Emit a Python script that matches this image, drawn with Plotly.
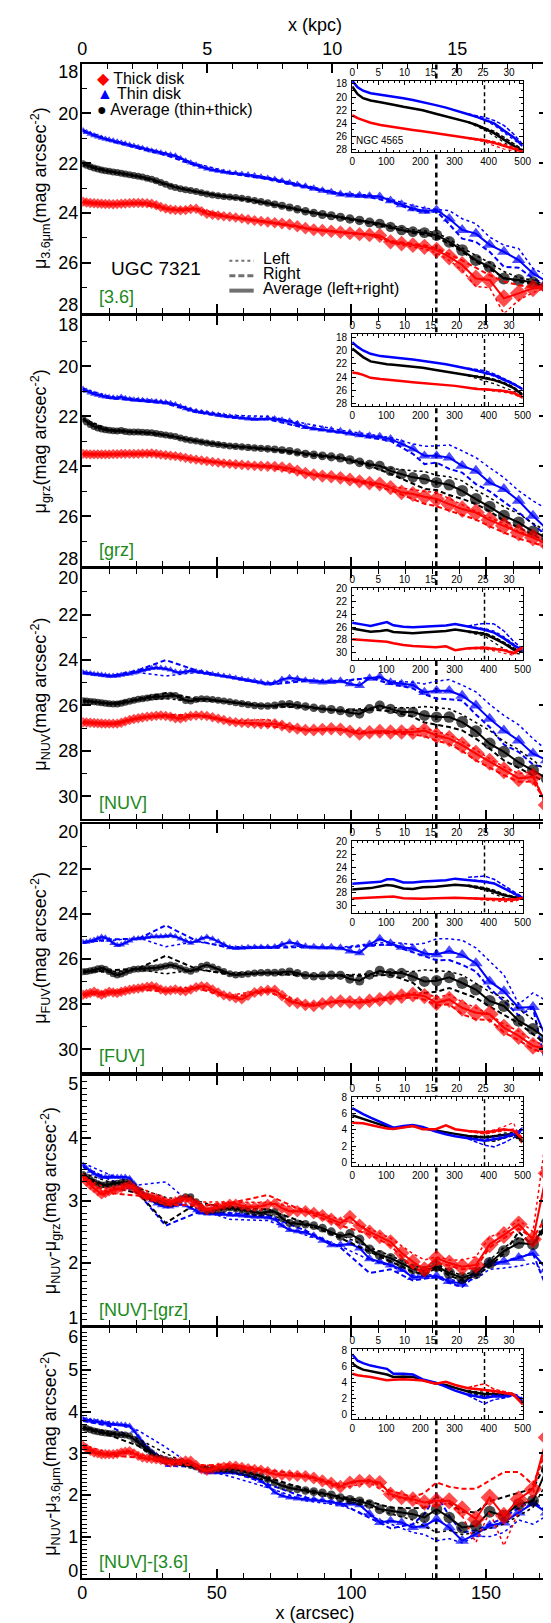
import numpy as np
import plotly.graph_objects as go

# ---------------- x grids (arcsec) ----------------
X_ARCSEC = [0.3, 1.6, 3.0, 4.4, 5.8, 7.2, 8.6, 10.0, 11.5, 13.0,
            14.5, 16.0, 17.6, 19.2, 20.8, 22.4, 24.1, 25.8, 27.5, 29.2,
            31.0, 32.8, 34.6, 36.5, 38.4, 40.3, 42.3, 44.3, 46.3, 48.4,
            50.5, 52.6, 54.8, 57.0, 59.3, 61.6, 64.0, 66.4, 68.9, 71.5,
            74.2, 77.0, 79.9, 82.9, 86.0, 89.2, 92.5, 95.9, 99.4, 103.0,
            106.7, 110.5, 114.5, 118.6, 122.8, 127.1, 131.6, 136.3, 141.1, 146.2,
            151.3, 156.6, 162.1, 167.4, 172.5]
# grid of the left / right side profiles
X_SIDE = [0.3, 10.0, 20.8, 31.0, 42.3, 54.8, 68.9, 82.9, 95.9, 106.7, 114.5,
          122.8, 127.1, 131.6, 136.3, 141.1, 146.2, 151.3, 156.6, 162.1, 167.4, 172.5]
# NGC 4565 inset grids
X_INSET = [0, 16, 32, 54, 83, 102, 121, 150, 178, 207, 245, 275, 302, 340, 365, 388, 416, 445, 473, 500]
X_INSET_TAIL = [340, 388, 416, 445, 473, 500]

BREAK_ARCSEC = 131.5
BREAK_INSET = 388
KPC_PER_ARCSEC = 0.1077
KPC_PER_ARCSEC_INSET = 0.0652
X_MAX = 173.0
X_MAX_INSET = 500

# ---------------- [3.6] ----------------
THIN_36 = [20.68, 20.75, 20.82, 20.88, 20.93, 20.98, 21.02, 21.06, 21.10, 21.14,
           21.18, 21.22, 21.27, 21.31, 21.36, 21.40, 21.45, 21.50, 21.54, 21.58,
           21.63, 21.66, 21.70, 21.80, 21.90, 21.98, 22.06, 22.15, 22.22, 22.27,
           22.31, 22.35, 22.38, 22.40, 22.43, 22.46, 22.50, 22.55, 22.60, 22.65,
           22.71, 22.79, 22.86, 22.93, 23.02, 23.10, 23.17, 23.24, 23.28, 23.30,
           23.32, 23.34, 23.50, 23.66, 23.82, 23.92, 23.88, 24.23, 24.68, 24.83,
           25.28, 25.56, 25.89, 26.43, 26.76]
MEAN_36 = [22.02, 22.08, 22.14, 22.19, 22.23, 22.27, 22.30, 22.32, 22.35, 22.37,
           22.40, 22.43, 22.46, 22.49, 22.52, 22.55, 22.60, 22.64, 22.70, 22.77,
           22.84, 22.92, 22.97, 23.02, 23.06, 23.10, 23.14, 23.19, 23.24, 23.28,
           23.31, 23.34, 23.36, 23.38, 23.41, 23.45, 23.50, 23.55, 23.60, 23.65,
           23.71, 23.78, 23.85, 23.93, 24.00, 24.06, 24.11, 24.17, 24.24, 24.30,
           24.38, 24.43, 24.56, 24.68, 24.75, 24.79, 24.89, 25.16, 25.49, 25.89,
           26.16, 26.63, 26.69, 26.79, 26.96]
THICK_36 = [23.55, 23.58, 23.60, 23.61, 23.62, 23.63, 23.64, 23.64, 23.65, 23.64,
            23.63, 23.62, 23.61, 23.60, 23.60, 23.60, 23.61, 23.63, 23.69, 23.76,
            23.82, 23.86, 23.88, 23.89, 23.88, 23.84, 23.83, 23.93, 24.03, 24.07,
            24.10, 24.13, 24.15, 24.18, 24.22, 24.26, 24.30, 24.33, 24.36, 24.39,
            24.42, 24.46, 24.53, 24.61, 24.67, 24.70, 24.73, 24.77, 24.81, 24.85,
            24.88, 24.90, 25.16, 25.23, 25.29, 25.36, 25.49, 25.76, 26.09, 26.63,
            26.69, 27.43, 27.23, 27.03, 26.96]
THIN_36_L = [20.66, 21.04, 21.33, 21.60, 22.02, 22.35, 22.56, 22.88, 23.20, 23.28, 23.44,
             23.70, 23.80, 23.86, 23.90, 24.23, 24.43, 24.97, 25.29, 25.43, 26.23, 26.50]
THIN_36_R = [20.72, 21.09, 21.40, 21.67, 22.10, 22.41, 22.64, 22.98, 23.28, 23.36, 23.55,
             23.88, 23.98, 23.93, 24.45, 25.03, 25.16, 25.56, 26.16, 26.20, 26.63, 26.90]
MEAN_36_L = [22.00, 22.30, 22.50, 22.82, 23.12, 23.34, 23.57, 23.90, 24.14, 24.34, 24.50,
             24.68, 24.72, 24.80, 25.05, 25.40, 25.70, 26.00, 26.35, 26.60, 26.70, 26.90]
MEAN_36_R = [22.04, 22.34, 22.54, 22.86, 23.16, 23.38, 23.63, 23.96, 24.20, 24.41, 24.60,
             24.80, 24.86, 24.97, 25.25, 25.55, 25.95, 26.25, 26.60, 26.75, 26.85, 27.00]
THICK_36_L = [23.53, 23.62, 23.58, 23.80, 23.81, 24.13, 24.34, 24.60, 24.76, 24.88, 25.20,
              25.36, 25.45, 25.60, 25.90, 26.30, 26.96, 27.00, 28.05, 27.50, 27.20, 27.00]
THICK_36_R = [23.57, 23.66, 23.62, 23.84, 23.85, 24.17, 24.38, 24.62, 24.78, 24.88, 25.12,
              25.24, 25.30, 25.42, 25.65, 25.90, 26.20, 26.50, 26.75, 26.90, 27.00, 26.95]
# NGC 4565 inset
THIN_36_IN = [17.5, 18.5, 19.03, 19.42, 19.65, 19.78, 19.94, 20.19, 20.45, 20.75,
              21.22, 21.6, 21.98, 22.6, 23.0, 23.4, 24.0, 25.1, 26.1, 27.4]
MEAN_36_IN = [18.4, 19.55, 20.16, 20.52, 20.78, 20.93, 21.15, 21.48, 21.72, 22.0,
              22.53, 22.93, 23.3, 23.8, 24.25, 24.82, 25.48, 26.47, 27.4, 28.15]
THICK_36_IN = [22.75, 23.2, 23.5, 23.9, 24.25, 24.42, 24.58, 24.82, 25.0, 25.2,
               25.48, 25.72, 25.93, 26.25, 26.42, 26.6, 26.97, 27.4, 27.8, 28.3]
THIN_36_IN_L = [22.6, 23.5, 24.3, 25.4, 26.4, 27.5]
THIN_36_IN_R = [22.55, 23.1, 23.55, 24.3, 25.6, 27.2]
MEAN_36_IN_L = [23.85, 25.0, 25.9, 26.9, 27.8, 28.3]
MEAN_36_IN_R = [23.75, 24.6, 25.2, 26.1, 27.1, 28.0]
THICK_36_IN_L = [26.3, 26.8, 27.4, 27.9, 28.2, 28.4]
THICK_36_IN_R = [26.2, 26.5, 26.8, 27.2, 27.6, 28.2]

# ---------------- [grz] ----------------
THIN_GRZ = [20.90, 20.98, 21.05, 21.10, 21.14, 21.18, 21.21, 21.23, 21.25, 21.26,
            21.22, 21.27, 21.31, 21.33, 21.34, 21.35, 21.37, 21.39, 21.40, 21.42,
            21.44, 21.47, 21.52, 21.60, 21.68, 21.74, 21.79, 21.83, 21.86, 21.90,
            21.94, 21.97, 22.00, 22.03, 22.06, 22.09, 22.11, 22.10, 22.08, 22.10,
            22.15, 22.20, 22.30, 22.42, 22.48, 22.52, 22.56, 22.60, 22.67, 22.74,
            22.79, 22.81, 22.91, 23.10, 23.30, 23.58, 23.58, 23.65, 23.98, 24.18,
            24.65, 24.91, 25.38, 25.98, 26.51]
MEAN_GRZ = [22.10, 22.22, 22.32, 22.40, 22.46, 22.50, 22.53, 22.55, 22.57, 22.58,
            22.56, 22.60, 22.62, 22.62, 22.62, 22.63, 22.64, 22.65, 22.68, 22.71,
            22.74, 22.77, 22.80, 22.86, 22.91, 22.95, 22.98, 23.02, 23.06, 23.09,
            23.12, 23.15, 23.18, 23.20, 23.22, 23.24, 23.26, 23.28, 23.30, 23.32,
            23.35, 23.39, 23.44, 23.50, 23.54, 23.58, 23.62, 23.66, 23.74, 23.84,
            23.93, 23.98, 24.18, 24.31, 24.44, 24.51, 24.65, 24.74, 24.98, 25.31,
            25.62, 25.98, 26.25, 26.61, 26.85]
THICK_GRZ = [23.50, 23.51, 23.52, 23.52, 23.52, 23.52, 23.52, 23.52, 23.51, 23.51,
             23.50, 23.50, 23.50, 23.50, 23.50, 23.49, 23.49, 23.48, 23.50, 23.53,
             23.55, 23.57, 23.59, 23.62, 23.66, 23.70, 23.73, 23.76, 23.79, 23.82,
             23.85, 23.88, 23.90, 23.92, 23.94, 23.96, 23.98, 23.99, 24.00, 24.01,
             24.03, 24.08, 24.17, 24.27, 24.34, 24.39, 24.42, 24.46, 24.53, 24.60,
             24.67, 24.71, 24.85, 25.04, 25.11, 25.22, 25.31, 25.51, 25.71, 25.85,
             26.15, 26.38, 26.65, 26.85, 27.11]
THIN_GRZ_L = [20.88, 21.20, 21.30, 21.40, 21.75, 21.96, 22.00, 22.30, 22.55, 22.72, 22.85,
              23.10, 23.20, 23.18, 23.14, 23.38, 23.65, 24.05, 24.45, 24.98, 25.38, 25.71]
THIN_GRZ_R = [20.93, 21.26, 21.38, 21.48, 21.83, 22.04, 22.12, 22.46, 22.65, 22.84, 22.98,
              23.50, 23.91, 23.85, 24.10, 24.25, 24.71, 25.00, 25.40, 25.85, 26.30, 26.80]
MEAN_GRZ_L = [22.08, 22.52, 22.60, 22.72, 22.95, 23.15, 23.27, 23.46, 23.62, 23.88, 24.08,
              24.18, 24.20, 24.36, 24.42, 24.58, 24.95, 25.25, 25.62, 25.90, 26.28, 26.60]
MEAN_GRZ_R = [22.12, 22.58, 22.65, 22.77, 23.01, 23.21, 23.33, 23.54, 23.70, 23.98, 24.30,
              24.70, 24.90, 24.95, 25.15, 25.30, 25.51, 25.80, 26.18, 26.45, 26.75, 27.00]
THICK_GRZ_L = [23.48, 23.50, 23.48, 23.53, 23.71, 23.88, 23.96, 24.24, 24.43, 24.62, 24.80,
               24.95, 25.00, 25.05, 25.30, 25.55, 25.80, 26.05, 26.30, 26.60, 26.80, 27.05]
THICK_GRZ_R = [23.52, 23.54, 23.52, 23.57, 23.75, 23.92, 24.04, 24.30, 24.50, 24.72, 24.95,
               25.30, 25.50, 25.60, 25.78, 25.95, 26.13, 26.40, 26.65, 26.90, 27.05, 27.25]
THIN_GRZ_IN = [18.7, 19.4, 19.95, 20.45, 20.8, 20.93, 21.04, 21.15, 21.3, 21.47,
               21.8, 22.05, 22.3, 22.72, 23.02, 23.33, 23.7, 24.4, 25.05, 25.85]
MEAN_GRZ_IN = [19.66, 20.35, 20.95, 21.6, 21.9, 22.03, 22.13, 22.25, 22.38, 22.57,
               22.92, 23.2, 23.42, 23.72, 23.92, 24.15, 24.45, 24.95, 25.65, 26.7]
THICK_GRZ_IN = [23.3, 23.4, 23.65, 24.1, 24.3, 24.36, 24.45, 24.62, 24.77, 24.88,
                25.02, 25.16, 25.33, 25.6, 25.8, 25.85, 25.92, 26.1, 26.4, 27.1]
THIN_GRZ_IN_L = [22.7, 23.4, 23.85, 24.5, 25.1, 25.9]
THIN_GRZ_IN_R = [22.65, 23.0, 23.5, 24.2, 24.9, 25.8]
MEAN_GRZ_IN_L = [23.8, 24.5, 25.0, 25.6, 26.1, 26.8]
MEAN_GRZ_IN_R = [23.7, 24.0, 24.3, 24.8, 25.5, 26.6]
THICK_GRZ_IN_L = [25.65, 25.95, 26.1, 26.3, 26.6, 27.2]
THICK_GRZ_IN_R = [25.6, 25.8, 25.9, 26.05, 26.3, 27.0]

# ---------------- [NUV] ----------------
THIN_NUV = [24.55, 24.57, 24.59, 24.62, 24.64, 24.66, 24.68, 24.70, 24.70, 24.69,
            24.66, 24.63, 24.60, 24.56, 24.50, 24.45, 24.40, 24.36, 24.34, 24.35,
            24.38, 24.43, 24.52, 24.55, 24.50, 24.47, 24.50, 24.54, 24.58, 24.62,
            24.66, 24.70, 24.74, 24.79, 24.84, 24.89, 24.93, 24.98, 25.04, 25.00,
            24.85, 24.78, 24.83, 24.90, 24.95, 24.98, 24.95, 24.92, 25.05, 25.12,
            24.80, 24.74, 24.98, 25.05, 25.10, 25.42, 25.35, 25.35, 25.57, 26.00,
            26.59, 27.10, 27.54, 28.12, 28.41]
MEAN_NUV = [25.79, 25.80, 25.82, 25.84, 25.86, 25.88, 25.90, 25.92, 25.93, 25.93,
            25.90, 25.86, 25.81, 25.77, 25.73, 25.70, 25.67, 25.64, 25.62, 25.60,
            25.58, 25.55, 25.56, 25.66, 25.78, 25.80, 25.74, 25.70, 25.71, 25.74,
            25.77, 25.80, 25.84, 25.88, 25.92, 25.96, 26.00, 26.02, 26.02, 26.00,
            25.95, 25.94, 25.99, 26.05, 26.10, 26.15, 26.18, 26.23, 26.32, 26.37,
            26.15, 26.00, 26.15, 26.29, 26.29, 26.44, 26.51, 26.51, 26.73, 27.13,
            27.68, 28.04, 28.51, 28.85, 29.21]
THICK_NUV = [26.74, 26.75, 26.76, 26.77, 26.78, 26.79, 26.80, 26.80, 26.80, 26.80,
             26.76, 26.70, 26.64, 26.60, 26.56, 26.53, 26.50, 26.48, 26.45, 26.44,
             26.46, 26.50, 26.56, 26.58, 26.52, 26.46, 26.44, 26.44, 26.46, 26.52,
             26.58, 26.64, 26.70, 26.74, 26.76, 26.78, 26.80, 26.81, 26.81, 26.81,
             26.88, 26.97, 27.02, 27.08, 27.08, 27.05, 27.03, 27.05, 27.15, 27.24,
             27.18, 27.14, 27.17, 27.17, 27.17, 27.10, 27.32, 27.46, 27.75, 28.12,
             28.48, 28.85, 29.21, 29.14, 30.38]
THIN_NUV_L = [24.53, 24.68, 24.55, 24.70, 24.55, 24.72, 25.00, 24.88, 24.90, 24.78, 24.92,
              24.98, 25.05, 24.93, 24.86, 25.10, 25.40, 25.95, 26.44, 26.85, 27.46, 27.97]
THIN_NUV_R = [24.57, 24.72, 24.45, 24.00, 24.45, 24.76, 25.08, 24.92, 24.95, 24.78, 25.05,
              25.25, 25.50, 25.70, 25.72, 25.78, 26.40, 26.95, 27.72, 28.05, 28.60, 28.75]
MEAN_NUV_L = [25.77, 25.90, 25.76, 25.70, 25.80, 25.82, 26.00, 26.03, 26.20, 26.12, 26.10,
              26.10, 26.05, 26.10, 26.15, 26.40, 26.75, 27.10, 27.58, 27.95, 28.40, 28.90]
MEAN_NUV_R = [25.81, 25.94, 25.70, 25.45, 25.70, 25.86, 26.04, 26.08, 26.26, 26.18, 26.25,
              26.50, 26.75, 26.85, 26.95, 27.10, 27.46, 27.90, 28.42, 28.75, 29.07, 29.40]
THICK_NUV_L = [26.72, 26.78, 26.58, 26.50, 26.46, 26.68, 26.62, 27.05, 27.02, 27.15, 27.12,
               27.05, 27.00, 27.15, 27.30, 27.60, 27.95, 28.35, 28.70, 29.00, 28.92, 30.60]
THICK_NUV_R = [26.76, 26.82, 26.54, 26.42, 26.42, 26.72, 26.90, 27.10, 27.08, 27.20, 27.22,
               27.28, 27.35, 27.55, 27.70, 28.00, 28.42, 28.75, 29.07, 29.36, 29.35, 30.30]
THIN_NUV_IN = [25.3, 25.4, 25.6, 25.8, 25.5, 25.2, 25.7, 25.95, 26.0, 25.9,
               25.8, 25.75, 25.5, 25.9, 26.1, 26.4, 26.85, 27.75, 28.8, 29.6]
MEAN_NUV_IN = [26.2, 26.35, 26.5, 26.7, 26.6, 26.45, 26.75, 26.9, 26.95, 26.85,
               26.7, 26.6, 26.35, 26.7, 26.85, 27.05, 27.75, 28.55, 29.5, 29.85]
THICK_NUV_IN = [27.9, 27.95, 28.0, 28.1, 28.2, 28.27, 28.5, 28.8, 28.95, 29.05,
                29.15, 29.0, 29.6, 29.3, 29.25, 29.2, 29.4, 29.6, 30.1, 29.1]
THIN_NUV_IN_L = [25.85, 26.2, 26.6, 27.5, 28.6, 29.8]
THIN_NUV_IN_R = [25.8, 25.4, 25.5, 26.6, 28.2, 29.4]
MEAN_NUV_IN_L = [26.8, 27.4, 28.4, 29.4, 30.1, 30.2]
MEAN_NUV_IN_R = [26.65, 26.9, 27.5, 28.3, 29.2, 29.7]
THICK_NUV_IN_L = [29.4, 29.4, 29.7, 30.0, 30.4, 29.3]
THICK_NUV_IN_R = [29.25, 29.1, 29.3, 29.5, 29.9, 29.0]

# ---------------- [FUV] ----------------
THIN_FUV = [25.25, 25.24, 25.20, 25.15, 25.08, 25.02, 25.05, 25.15, 25.30, 25.38,
            25.36, 25.28, 25.18, 25.10, 25.08, 25.06, 25.03, 25.00, 25.00, 25.00,
            24.98, 24.95, 25.00, 25.10, 25.20, 25.28, 25.20, 25.08, 25.02, 25.10,
            25.22, 25.35, 25.48, 25.52, 25.50, 25.48, 25.47, 25.47, 25.47, 25.46,
            25.35, 25.25, 25.32, 25.44, 25.47, 25.47, 25.47, 25.50, 25.65, 25.72,
            25.35, 25.10, 25.30, 25.47, 25.53, 25.75, 25.79, 25.64, 25.82, 26.18,
            26.99, 27.43, 28.16, 28.13, 29.55]
MEAN_FUV = [26.56, 26.55, 26.52, 26.48, 26.43, 26.40, 26.45, 26.55, 26.65, 26.70,
            26.66, 26.58, 26.50, 26.45, 26.44, 26.43, 26.41, 26.40, 26.38, 26.35,
            26.30, 26.26, 26.30, 26.40, 26.48, 26.54, 26.45, 26.32, 26.26, 26.35,
            26.45, 26.55, 26.65, 26.70, 26.68, 26.65, 26.62, 26.60, 26.60, 26.60,
            26.58, 26.55, 26.62, 26.72, 26.76, 26.74, 26.71, 26.72, 26.88, 26.96,
            26.70, 26.52, 26.62, 26.62, 26.77, 26.99, 26.96, 26.81, 27.06, 27.35,
            27.86, 28.08, 28.74, 29.10, 29.55]
THICK_FUV = [27.58, 27.55, 27.50, 27.45, 27.52, 27.58, 27.52, 27.45, 27.48, 27.50,
             27.45, 27.40, 27.36, 27.33, 27.30, 27.27, 27.23, 27.20, 27.25, 27.35,
             27.40, 27.38, 27.35, 27.40, 27.43, 27.35, 27.25, 27.20, 27.22, 27.35,
             27.48, 27.60, 27.66, 27.74, 27.78, 27.62, 27.48, 27.42, 27.38, 27.38,
             27.62, 27.88, 27.95, 28.03, 28.07, 27.98, 27.90, 27.86, 27.90, 27.94,
             27.85, 27.79, 27.72, 27.64, 27.57, 27.64, 27.94, 27.79, 28.16, 28.38,
             28.45, 29.04, 29.41, 29.85, 30.00]
THIN_FUV_L = [25.23, 25.18, 25.05, 25.45, 25.22, 25.45, 25.44, 25.42, 25.48, 25.32, 25.25,
              25.35, 25.30, 25.10, 25.10, 25.16, 25.50, 26.10, 26.70, 28.00, 27.50, 27.86]
THIN_FUV_R = [25.27, 25.12, 25.10, 24.50, 25.18, 25.50, 25.50, 25.46, 25.52, 25.38, 25.36,
              25.70, 25.89, 26.05, 26.04, 26.25, 26.55, 27.30, 27.86, 28.50, 28.16, 30.90]
MEAN_FUV_L = [26.54, 26.58, 26.46, 26.65, 26.47, 26.62, 26.57, 26.70, 26.70, 26.66, 26.56,
              26.55, 26.48, 26.50, 26.55, 26.70, 27.06, 27.45, 27.72, 28.20, 28.67, 29.30]
MEAN_FUV_R = [26.58, 26.52, 26.42, 25.85, 26.43, 26.68, 26.63, 26.74, 26.75, 26.74, 26.70,
              27.05, 27.50, 27.45, 27.28, 27.50, 27.72, 28.10, 28.45, 28.85, 29.33, 29.80]
THICK_FUV_L = [27.56, 27.42, 27.26, 27.35, 27.22, 27.62, 27.32, 27.98, 27.84, 27.80, 27.66,
               27.50, 27.50, 27.70, 27.57, 27.90, 28.16, 28.45, 28.89, 29.20, 29.62, 29.85]
THICK_FUV_R = [27.60, 27.48, 27.34, 27.44, 27.28, 27.70, 27.44, 28.08, 27.90, 27.90, 27.78,
               27.70, 27.80, 28.05, 28.00, 28.45, 28.67, 28.70, 29.25, 29.60, 30.00, 30.20]
THIN_FUV_IN = [26.6, 26.55, 26.5, 26.5, 26.3, 25.9, 25.9, 26.4, 26.4, 26.25,
               26.15, 26.05, 25.8, 26.0, 26.2, 26.3, 26.55, 27.3, 28.0, 28.8]
MEAN_FUV_IN = [27.5, 27.45, 27.4, 27.28, 27.0, 26.8, 26.9, 27.35, 27.4, 27.15,
               27.05, 26.95, 26.75, 26.9, 27.1, 27.4, 27.85, 28.4, 28.7, 28.9]
THICK_FUV_IN = [28.9, 28.85, 28.9, 28.8, 28.7, 28.6, 28.6, 28.85, 28.9, 28.95,
                28.85, 28.8, 28.8, 28.85, 28.9, 29.0, 29.05, 29.15, 29.1, 28.8]
THIN_FUV_IN_L = [26.0, 26.1, 26.5, 27.4, 28.2, 28.9]
THIN_FUV_IN_R = [25.6, 25.4, 25.9, 26.9, 27.8, 28.7]
MEAN_FUV_IN_L = [27.0, 27.6, 28.2, 28.8, 29.1, 29.0]
MEAN_FUV_IN_R = [26.8, 27.2, 27.6, 28.2, 28.6, 28.85]
THICK_FUV_IN_L = [28.9, 29.1, 29.3, 29.4, 29.4, 28.9]
THICK_FUV_IN_R = [28.8, 28.9, 28.95, 29.1, 29.0, 28.8]

# ---------------- [NUV]-[grz] ----------------
THIN_NG = [3.57, 3.52, 3.47, 3.43, 3.40, 3.38, 3.38, 3.38, 3.38, 3.38,
           3.38, 3.38, 3.36, 3.28, 3.19, 3.11, 3.05, 3.00, 2.95, 2.92,
           2.90, 2.90, 2.92, 2.94, 2.92, 2.88, 2.84, 2.80, 2.79, 2.79,
           2.78, 2.78, 2.77, 2.77, 2.76, 2.75, 2.74, 2.74, 2.73, 2.70,
           2.60, 2.53, 2.51, 2.49, 2.44, 2.36, 2.29, 2.29, 2.31, 2.24,
           2.07, 2.02, 1.97, 1.90, 1.77, 1.79, 1.79, 1.71, 1.67, 1.84,
           2.00, 2.02, 2.08, 2.16, 1.90]
MEAN_NG = [3.42, 3.38, 3.34, 3.30, 3.27, 3.25, 3.25, 3.26, 3.27, 3.28,
           3.29, 3.30, 3.28, 3.22, 3.16, 3.10, 3.07, 3.04, 3.01, 2.98,
           2.96, 2.95, 2.97, 3.02, 3.06, 3.06, 2.98, 2.88, 2.83, 2.84,
           2.85, 2.86, 2.88, 2.87, 2.85, 2.83, 2.81, 2.80, 2.82, 2.82,
           2.72, 2.64, 2.63, 2.62, 2.60, 2.56, 2.50, 2.43, 2.47, 2.38,
           2.22, 2.13, 2.08, 2.00, 1.91, 1.87, 1.95, 1.84, 1.76, 1.84,
           2.00, 2.19, 2.32, 2.30, 2.64]
THICK_NG = [3.36, 3.30, 3.25, 3.20, 3.15, 3.10, 3.12, 3.15, 3.17, 3.18,
            3.20, 3.23, 3.25, 3.20, 3.14, 3.09, 3.07, 3.05, 3.04, 3.02,
            2.98, 2.97, 2.99, 3.02, 3.03, 3.00, 2.95, 2.88, 2.85, 2.87,
            2.90, 2.92, 2.95, 2.95, 2.92, 2.90, 2.90, 2.91, 2.94, 2.95,
            2.88, 2.83, 2.83, 2.83, 2.80, 2.76, 2.70, 2.64, 2.74, 2.60,
            2.50, 2.42, 2.34, 2.16, 2.02, 1.90, 2.08, 2.00, 1.94, 1.97,
            2.30, 2.45, 2.62, 2.38, 3.44]
THIN_NG_L = [3.60, 3.42, 3.25, 3.30, 2.88, 2.70, 2.68, 2.45, 2.27, 2.05, 1.95,
             1.80, 1.82, 1.80, 1.74, 1.70, 1.75, 1.90, 1.92, 1.95, 2.00, 1.85]
THIN_NG_R = [3.54, 3.34, 3.12, 2.60, 2.80, 2.80, 2.76, 2.52, 2.25, 1.84, 1.90,
             1.72, 1.75, 1.78, 1.68, 1.62, 1.80, 1.95, 2.02, 2.10, 2.15, 1.60]
MEAN_NG_L = [3.44, 3.30, 3.20, 3.05, 3.00, 2.86, 2.78, 2.60, 2.45, 2.25, 2.12,
             1.96, 1.92, 1.98, 1.88, 1.80, 1.88, 2.05, 2.25, 2.40, 2.32, 2.70]
MEAN_NG_R = [3.40, 3.22, 3.12, 2.64, 2.95, 2.90, 2.86, 2.64, 2.40, 2.18, 2.03,
             1.86, 1.82, 1.92, 1.80, 1.72, 1.80, 1.95, 2.15, 2.50, 2.28, 2.58]
THICK_NG_L = [3.38, 3.18, 3.22, 3.02, 2.98, 2.98, 2.97, 2.86, 2.70, 2.55, 2.40,
              2.15, 2.05, 2.10, 2.05, 2.05, 2.10, 2.42, 2.50, 2.69, 2.50, 4.10]
THICK_NG_R = [3.34, 3.12, 3.08, 2.94, 2.92, 2.96, 3.09, 2.82, 2.60, 2.46, 2.28,
              1.92, 1.85, 2.00, 1.96, 1.90, 1.92, 2.25, 2.40, 2.55, 2.40, 2.75]
THIN_NG_IN = [6.7, 6.3, 5.95, 5.5, 5.0, 4.67, 4.27, 4.47, 4.6, 4.35,
              3.78, 3.45, 3.2, 2.97, 2.8, 2.64, 2.85, 3.05, 3.45, 4.07]
MEAN_NG_IN = [5.8, 5.6, 5.4, 5.05, 4.65, 4.4, 4.2, 4.35, 4.5, 4.2,
              3.9, 3.7, 3.5, 3.25, 3.15, 3.05, 3.2, 3.4, 3.5, 2.6]
THICK_NG_IN = [4.88, 4.88, 4.8, 4.6, 4.3, 4.15, 4.1, 4.27, 4.47, 4.07,
               4.07, 4.55, 4.07, 3.86, 3.75, 3.66, 3.86, 4.07, 3.9, 2.85]
THIN_NG_IN_L = [3.0, 2.8, 3.1, 3.4, 3.6, 4.3]
THIN_NG_IN_R = [2.9, 2.1, 1.9, 2.4, 3.0, 3.9]
MEAN_NG_IN_L = [3.3, 3.2, 3.3, 3.6, 3.7, 2.8]
MEAN_NG_IN_R = [3.2, 2.7, 2.6, 3.0, 3.3, 2.4]
THICK_NG_IN_L = [3.9, 3.8, 4.0, 4.4, 4.9, 2.0]
THICK_NG_IN_R = [3.8, 3.5, 3.7, 3.9, 4.1, 3.0]

# ---------------- [NUV]-[3.6] ----------------
THIN_N36 = [3.82, 3.80, 3.78, 3.77, 3.76, 3.74, 3.72, 3.71, 3.70, 3.70,
            3.69, 3.68, 3.66, 3.54, 3.40, 3.26, 3.14, 3.04, 2.96, 2.90,
            2.84, 2.79, 2.77, 2.76, 2.75, 2.74, 2.66, 2.58, 2.54, 2.54,
            2.54, 2.54, 2.54, 2.53, 2.50, 2.46, 2.42, 2.34, 2.22, 2.06,
            1.98, 1.94, 1.92, 1.90, 1.89, 1.87, 1.84, 1.78, 1.80, 1.76,
            1.55, 1.34, 1.38, 1.34, 1.22, 1.26, 1.42, 1.22, 0.90, 1.06,
            1.26, 1.34, 1.58, 1.80, 1.58]
MEAN_N36 = [3.62, 3.60, 3.57, 3.54, 3.52, 3.50, 3.49, 3.48, 3.47, 3.46,
            3.45, 3.44, 3.42, 3.34, 3.26, 3.19, 3.10, 3.01, 2.92, 2.88,
            2.85, 2.82, 2.80, 2.78, 2.75, 2.71, 2.67, 2.63, 2.62, 2.62,
            2.62, 2.62, 2.62, 2.61, 2.58, 2.54, 2.50, 2.45, 2.38, 2.30,
            2.22, 2.17, 2.14, 2.11, 2.08, 2.05, 2.00, 1.93, 1.89, 1.85,
            1.78, 1.66, 1.62, 1.58, 1.54, 1.46, 1.66, 1.46, 1.22, 1.26,
            1.60, 1.50, 1.78, 1.86, 2.62]
THICK_N36 = [3.18, 3.12, 3.06, 3.02, 3.00, 2.98, 2.98, 2.98, 2.98, 2.99,
             3.02, 3.04, 3.05, 3.00, 2.94, 2.90, 2.88, 2.87, 2.86, 2.84,
             2.81, 2.78, 2.79, 2.81, 2.83, 2.82, 2.72, 2.62, 2.58, 2.62,
             2.66, 2.68, 2.70, 2.70, 2.67, 2.64, 2.62, 2.60, 2.56, 2.50,
             2.48, 2.47, 2.46, 2.45, 2.41, 2.34, 2.28, 2.20, 2.30, 2.34,
             2.33, 2.30, 2.02, 1.94, 1.90, 1.82, 1.86, 1.86, 1.66, 1.42,
             1.94, 1.50, 1.90, 2.14, 3.38]
THIN_N36_L = [3.85, 3.75, 3.55, 3.15, 2.64, 2.45, 2.18, 1.86, 1.75, 1.50, 1.30,
              1.10, 1.05, 0.90, 0.95, 0.85, 1.00, 1.00, 1.10, 1.40, 1.30, 1.50]
THIN_N36_R = [3.78, 3.66, 3.30, 2.70, 2.68, 2.58, 2.26, 1.94, 1.80, 1.45, 1.20,
              1.30, 1.55, 2.00, 1.50, 1.10, 1.15, 1.30, 1.45, 1.70, 1.85, 1.60]
MEAN_N36_L = [3.64, 3.52, 3.35, 3.00, 2.65, 2.55, 2.34, 2.08, 1.90, 1.72, 1.55,
              1.40, 1.25, 1.10, 1.15, 1.05, 1.10, 1.20, 1.30, 1.50, 1.70, 2.30]
MEAN_N36_R = [3.60, 3.44, 3.18, 2.75, 2.69, 2.66, 2.42, 2.14, 1.96, 1.84, 1.70,
              1.68, 1.70, 1.95, 1.80, 1.60, 1.58, 1.85, 1.95, 2.05, 2.15, 2.80]
THICK_N36_L = [3.20, 3.02, 2.98, 2.84, 2.74, 2.66, 2.54, 2.43, 2.16, 2.30, 1.98,
               1.85, 1.70, 1.75, 1.80, 1.50, 0.86, 1.60, 0.78, 1.60, 2.00, 3.30]
THICK_N36_R = [3.16, 2.95, 2.90, 2.78, 2.70, 2.74, 2.60, 2.48, 2.25, 2.36, 2.10,
               1.95, 2.05, 2.30, 2.20, 2.15, 2.15, 2.35, 2.55, 2.55, 2.25, 3.10]
THIN_N36_IN = [7.5, 6.7, 6.4, 6.1, 5.85, 5.7, 5.1, 5.1, 5.0, 4.4,
               4.0, 3.45, 3.0, 2.5, 2.3, 2.1, 2.3, 2.25, 2.5, 1.9]
MEAN_N36_IN = [6.4, 5.9, 5.6, 5.4, 5.15, 5.0, 4.7, 4.75, 4.7, 4.3,
               3.9, 3.7, 3.35, 2.9, 2.75, 2.6, 2.6, 2.5, 2.5, 1.6]
THICK_N36_IN = [5.1, 4.9, 4.8, 4.7, 4.45, 4.3, 4.35, 4.4, 4.35, 4.25,
                3.85, 4.1, 3.7, 3.3, 3.2, 3.1, 2.95, 2.75, 2.5, 1.3]
THIN_N36_IN_L = [2.6, 2.3, 2.5, 2.5, 2.7, 2.1]
THIN_N36_IN_R = [2.4, 1.4, 1.9, 2.1, 2.4, 1.8]
MEAN_N36_IN_L = [3.0, 2.8, 2.7, 2.6, 2.6, 1.7]
MEAN_N36_IN_R = [2.8, 2.3, 2.4, 2.4, 2.5, 1.5]
THICK_N36_IN_L = [3.3, 3.0, 2.8, 2.6, 2.8, 1.2]
THICK_N36_IN_R = [3.4, 3.85, 3.2, 2.9, 2.6, 1.4]

SUB = "(mag arcsec<sup>-2</sup>)"
PANELS = [
    dict(label="[3.6]", ytitle="μ<sub>3.6μm</sub>" + SUB, yrange=[28, 18], dtick=2, minor=1,
         iyrange=[28.4, 17.5], idtick=2, iminor=1,
         thin=(THIN_36, THIN_36_L, THIN_36_R), mean=(MEAN_36, MEAN_36_L, MEAN_36_R),
         thick=(THICK_36, THICK_36_L, THICK_36_R),
         ithin=(THIN_36_IN, THIN_36_IN_L, THIN_36_IN_R), imean=(MEAN_36_IN, MEAN_36_IN_L, MEAN_36_IN_R),
         ithick=(THICK_36_IN, THICK_36_IN_L, THICK_36_IN_R)),
    dict(label="[grz]", ytitle="μ<sub>grz</sub>" + SUB, yrange=[28, 18], dtick=2, minor=1,
         iyrange=[28.4, 17.5], idtick=2, iminor=1,
         thin=(THIN_GRZ, THIN_GRZ_L, THIN_GRZ_R), mean=(MEAN_GRZ, MEAN_GRZ_L, MEAN_GRZ_R),
         thick=(THICK_GRZ, THICK_GRZ_L, THICK_GRZ_R),
         ithin=(THIN_GRZ_IN, THIN_GRZ_IN_L, THIN_GRZ_IN_R), imean=(MEAN_GRZ_IN, MEAN_GRZ_IN_L, MEAN_GRZ_IN_R),
         ithick=(THICK_GRZ_IN, THICK_GRZ_IN_L, THICK_GRZ_IN_R)),
    dict(label="[NUV]", ytitle="μ<sub>NUV</sub>" + SUB, yrange=[31, 20], dtick=2, minor=1,
         iyrange=[31.1, 19.9], idtick=2, iminor=1,
         thin=(THIN_NUV, THIN_NUV_L, THIN_NUV_R), mean=(MEAN_NUV, MEAN_NUV_L, MEAN_NUV_R),
         thick=(THICK_NUV, THICK_NUV_L, THICK_NUV_R),
         ithin=(THIN_NUV_IN, THIN_NUV_IN_L, THIN_NUV_IN_R), imean=(MEAN_NUV_IN, MEAN_NUV_IN_L, MEAN_NUV_IN_R),
         ithick=(THICK_NUV_IN, THICK_NUV_IN_L, THICK_NUV_IN_R)),
    dict(label="[FUV]", ytitle="μ<sub>FUV</sub>" + SUB, yrange=[31, 20], dtick=2, minor=1,
         iyrange=[31.1, 19.9], idtick=2, iminor=1,
         thin=(THIN_FUV, THIN_FUV_L, THIN_FUV_R), mean=(MEAN_FUV, MEAN_FUV_L, MEAN_FUV_R),
         thick=(THICK_FUV, THICK_FUV_L, THICK_FUV_R),
         ithin=(THIN_FUV_IN, THIN_FUV_IN_L, THIN_FUV_IN_R), imean=(MEAN_FUV_IN, MEAN_FUV_IN_L, MEAN_FUV_IN_R),
         ithick=(THICK_FUV_IN, THICK_FUV_IN_L, THICK_FUV_IN_R)),
    dict(label="[NUV]-[grz]", ytitle="μ<sub>NUV</sub>-μ<sub>grz</sub>" + SUB, yrange=[1, 5], dtick=1, minor=0.1,
         iyrange=[-0.5, 8.1], idtick=2, iminor=0.5,
         thin=(THIN_NG, THIN_NG_L, THIN_NG_R), mean=(MEAN_NG, MEAN_NG_L, MEAN_NG_R),
         thick=(THICK_NG, THICK_NG_L, THICK_NG_R),
         ithin=(THIN_NG_IN, THIN_NG_IN_L, THIN_NG_IN_R), imean=(MEAN_NG_IN, MEAN_NG_IN_L, MEAN_NG_IN_R),
         ithick=(THICK_NG_IN, THICK_NG_IN_L, THICK_NG_IN_R)),
    dict(label="[NUV]-[3.6]", ytitle="μ<sub>NUV</sub>-μ<sub>3.6μm</sub>" + SUB, yrange=[0, 6], dtick=1, minor=0.1,
         iyrange=[-0.5, 8.1], idtick=2, iminor=0.5,
         thin=(THIN_N36, THIN_N36_L, THIN_N36_R), mean=(MEAN_N36, MEAN_N36_L, MEAN_N36_R),
         thick=(THICK_N36, THICK_N36_L, THICK_N36_R),
         ithin=(THIN_N36_IN, THIN_N36_IN_L, THIN_N36_IN_R), imean=(MEAN_N36_IN, MEAN_N36_IN_L, MEAN_N36_IN_R),
         ithick=(THICK_N36_IN, THICK_N36_IN_L, THICK_N36_IN_R)),
]

# ---------------- page geometry (pixels) ----------------
W, H = 551, 1623
PLOT_LEFT, PLOT_RIGHT = 71, 549
PANEL_TOP = [51, 305, 559, 815, 1068, 1322]
PANEL_BOT = [301, 556, 810, 1064, 1319, 1573]
INSET_LEFT, INSET_RIGHT = 348, 523
INSET_TOP = [68, 323, 578, 832, 1089, 1343]
INSET_BOT = [140, 395, 650, 904, 1159, 1413]
EDGE_LABEL_SHIFT = 8   # px, edge tick labels pushed inside the panel

RED, BLUE, BLACK = "#ff0000", "#0000ff", "#000000"
GREEN = "#1b8a1b"
FONT = "Liberation Sans, Arial, sans-serif"


def px(x):
    return x / W


def py(y):
    return 1 - y / H


def sfx(n):
    return "" if n == 1 else str(n)


def edge_labels(yrange, dtick, height_px):
    lo, hi = min(yrange), max(yrange)
    step = (hi - lo) / height_px * EDGE_LABEL_SHIFT
    vals, text = [], []
    v = np.ceil(lo / dtick - 1e-9) * dtick
    while v <= hi + 1e-9:
        pos = v
        if abs(v - lo) < 1e-9:
            pos = v + step
        elif abs(v - hi) < 1e-9:
            pos = v - step
        vals.append(float(pos))
        text.append("%g" % (round(v, 6) + 0.0))
        v += dtick
    return vals, text


for p in PANELS:
    for k in ("thin", "mean", "thick"):
        assert len(p[k][0]) == len(X_ARCSEC)
        assert len(p[k][1]) == len(X_SIDE) and len(p[k][2]) == len(X_SIDE)
        assert len(p["i" + k][0]) == len(X_INSET)
        assert len(p["i" + k][1]) == len(X_INSET_TAIL) and len(p["i" + k][2]) == len(X_INSET_TAIL)

# marker size grows with the bin width, as in the original profiles
SIZES = np.clip(1.8 * np.gradient(np.array(X_ARCSEC)) + 3.0, 7, 12)

fig = go.Figure()
layout = {}
tickfont = dict(family=FONT, size=18, color="black")
itickfont = dict(family=FONT, size=10, color="black")

COMPONENTS = [("thin", BLUE, "triangle-up", 1.0), ("mean", BLACK, "circle", 1.0), ("thick", RED, "diamond", 1.15)]

for i, p in enumerate(PANELS):
    n = i + 1
    m = i + 7
    xa, ya = "x" + sfx(n), "y" + sfx(n)
    ixa, iya = "x" + sfx(m), "y" + sfx(m)

    # break radius of UGC 7321
    fig.add_trace(go.Scatter(x=[BREAK_ARCSEC, BREAK_ARCSEC], y=p["yrange"], mode="lines",
                             line=dict(color="black", width=2.5, dash="5px,4px"),
                             xaxis=xa, yaxis=ya, showlegend=False, hoverinfo="skip"))
    for key, color, symbol, scale in COMPONENTS:
        avg, left, right = p[key]
        fig.add_trace(go.Scatter(x=X_ARCSEC, y=avg, mode="lines+markers",
                                 line=dict(color=color, width=2),
                                 marker=dict(symbol=symbol, size=SIZES * scale, color=color, line=dict(width=0)),
                                 xaxis=xa, yaxis=ya, showlegend=False, hoverinfo="skip"))
        fig.add_trace(go.Scatter(x=X_SIDE, y=left, mode="lines",
                                 line=dict(color=color, width=1.5, dash="dot"),
                                 xaxis=xa, yaxis=ya, showlegend=False, hoverinfo="skip"))
        fig.add_trace(go.Scatter(x=X_SIDE, y=right, mode="lines",
                                 line=dict(color=color, width=2, dash="5px,3px"),
                                 xaxis=xa, yaxis=ya, showlegend=False, hoverinfo="skip"))

    # NGC 4565 inset
    fig.add_trace(go.Scatter(x=[BREAK_INSET, BREAK_INSET], y=p["iyrange"], mode="lines",
                             line=dict(color="black", width=1.5, dash="4px,3px"),
                             xaxis=ixa, yaxis=iya, showlegend=False, hoverinfo="skip"))
    for key, color in [("imean", BLACK), ("ithin", BLUE), ("ithick", RED)]:
        avg, left, right = p[key]
        fig.add_trace(go.Scatter(x=X_INSET, y=avg, mode="lines", line=dict(color=color, width=2.5),
                                 xaxis=ixa, yaxis=iya, showlegend=False, hoverinfo="skip"))
        fig.add_trace(go.Scatter(x=X_INSET_TAIL, y=left, mode="lines",
                                 line=dict(color=color, width=1.2, dash="dot"),
                                 xaxis=ixa, yaxis=iya, showlegend=False, hoverinfo="skip"))
        fig.add_trace(go.Scatter(x=X_INSET_TAIL, y=right, mode="lines",
                                 line=dict(color=color, width=1.5, dash="4px,2px"),
                                 xaxis=ixa, yaxis=iya, showlegend=False, hoverinfo="skip"))

    ydom = [py(PANEL_BOT[i]), py(PANEL_TOP[i])]
    xdict = dict(
        domain=[px(PLOT_LEFT), px(PLOT_RIGHT)], anchor=ya, range=[0, X_MAX],
        showline=True, linewidth=2, linecolor="black", mirror=True if n == 1 else "ticks",
        ticks="inside", ticklen=9, tickwidth=1.5, tickcolor="black", dtick=50, tick0=0,
        minor=dict(dtick=10, ticks="inside", ticklen=5, tickwidth=1, tickcolor="black"),
        showticklabels=(n == 6), tickfont=tickfont, showgrid=False, zeroline=False)
    if n == 6:
        xdict["title"] = dict(text="x (arcsec)", font=dict(family=FONT, size=18), standoff=0)
        xdict["ticklabelstandoff"] = -3
    layout["xaxis" + sfx(n)] = xdict
    layout["yaxis" + sfx(n)] = dict(
        domain=ydom, anchor=xa, range=p["yrange"],
        showline=True, linewidth=2, linecolor="black", mirror="ticks",
        ticks="inside", ticklen=9, tickwidth=1.5, tickcolor="black", dtick=p["dtick"], tick0=0,
        minor=dict(dtick=p["minor"], ticks="inside", ticklen=5, tickwidth=1, tickcolor="black"),
        showticklabels=False, showgrid=False, zeroline=False)

    # tick labels of the panel, with the edge labels kept inside the frame
    lab = 20 + i
    vals, text = edge_labels(p["yrange"], p["dtick"], PANEL_BOT[i] - PANEL_TOP[i])
    layout["yaxis" + str(lab)] = dict(
        overlaying=ya, anchor=xa, side="left", range=p["yrange"], showline=False,
        ticks="", tickmode="array", tickvals=vals, ticktext=text, tickfont=tickfont,
        showgrid=False, zeroline=False, ticklabelstandoff=3,
        title=dict(text=p["ytitle"], font=dict(family=FONT, size=18), standoff=6))
    fig.add_trace(go.Scatter(x=[], y=[], xaxis=xa, yaxis="y" + str(lab), showlegend=False, hoverinfo="skip"))

    layout["xaxis" + sfx(m)] = dict(
        domain=[px(INSET_LEFT), px(INSET_RIGHT)], anchor=iya, range=[0, X_MAX_INSET],
        showline=True, linewidth=1, linecolor="black", mirror=True,
        ticks="inside", ticklen=4, tickwidth=1, tickcolor="black", dtick=100, tick0=0,
        minor=dict(dtick=20, ticks="inside", ticklen=2, tickcolor="black"),
        tickfont=itickfont, showgrid=False, zeroline=False)
    layout["yaxis" + sfx(m)] = dict(
        domain=[py(INSET_BOT[i]), py(INSET_TOP[i])], anchor=ixa, range=p["iyrange"],
        showline=True, linewidth=1, linecolor="black", mirror="ticks",
        ticks="inside", ticklen=4, tickwidth=1, tickcolor="black", dtick=p["idtick"], tick0=0,
        minor=dict(dtick=p["iminor"], ticks="inside", ticklen=2, tickcolor="black"),
        tickfont=itickfont, showgrid=False, zeroline=False, ticklabelstandoff=2)

    # kpc scale on top of the inset
    k = 13 + n
    layout["xaxis" + str(k)] = dict(
        overlaying=ixa, side="top", anchor=iya, range=[0, X_MAX_INSET * KPC_PER_ARCSEC_INSET],
        showline=True, linewidth=1, linecolor="black",
        ticks="inside", ticklen=4, tickwidth=1, tickcolor="black", dtick=5, tick0=0,
        minor=dict(dtick=1, ticks="inside", ticklen=2, tickcolor="black"),
        tickfont=itickfont, showgrid=False, zeroline=False)
    fig.add_trace(go.Scatter(x=[], y=[], xaxis="x" + str(k), yaxis=iya, showlegend=False, hoverinfo="skip"))

    # band label
    layout.setdefault("annotations", []).append(dict(
        text=p["label"], xref="paper", yref="paper", x=px(86), y=py(PANEL_BOT[i] - 16),
        xanchor="left", yanchor="middle", showarrow=False, font=dict(family=FONT, size=18, color=GREEN)))

# kpc scale on top of the main figure
layout["xaxis13"] = dict(
    overlaying="x", side="top", anchor="y", range=[0, X_MAX * KPC_PER_ARCSEC],
    showline=True, linewidth=2, linecolor="black",
    ticks="inside", ticklen=9, tickwidth=1.5, tickcolor="black", dtick=5, tick0=0,
    minor=dict(dtick=1, ticks="inside", ticklen=5, tickwidth=1, tickcolor="black"),
    tickfont=tickfont, showgrid=False, zeroline=False,
    title=dict(text="x (kpc)", font=dict(family=FONT, size=18), standoff=2))
fig.add_trace(go.Scatter(x=[], y=[], xaxis="x13", yaxis="y", showlegend=False, hoverinfo="skip"))

ann = layout["annotations"]
# symbol key
for label, color, glyph, y in [("Thick disk", RED, "◆", 66), ("Thin disk", BLUE, "▲", 81),
                               ("Average (thin+thick)", BLACK, "●", 97)]:
    ann.append(dict(text="<span style='color:%s'>%s</span> %s" % (color, glyph, label),
                    xref="paper", yref="paper", x=px(84), y=py(y), xanchor="left", yanchor="middle",
                    showarrow=False, font=dict(family=FONT, size=16, color="black")))
ann.append(dict(text="UGC 7321", xref="paper", yref="paper", x=px(98), y=py(257), xanchor="left",
                yanchor="middle", showarrow=False, font=dict(family=FONT, size=19, color="black")))
ann.append(dict(text="NGC 4565", xref="x7 domain", yref="y7 domain", x=0.01, y=0.17, xanchor="left",
                yanchor="middle", showarrow=False, font=dict(family=FONT, size=10, color="black")))

# line style key
shapes = []
for label, dash, width, y in [("Left", "dot", 2, 247), ("Right", "6px,3px", 3, 262),
                              ("Average (left+right)", "solid", 4, 277)]:
    shapes.append(dict(type="line", xref="paper", yref="paper", x0=px(222), x1=px(247),
                       y0=py(y + 2), y1=py(y + 2), line=dict(color="#707070", width=width, dash=dash)))
    ann.append(dict(text=label, xref="paper", yref="paper", x=px(254), y=py(y), xanchor="left",
                    yanchor="middle", showarrow=False, font=dict(family=FONT, size=16, color="black")))

layout.update(dict(
    width=W, height=H, autosize=False, margin=dict(l=0, r=0, t=0, b=0),
    paper_bgcolor="white", plot_bgcolor="white", showlegend=False,
    font=dict(family=FONT, color="black"), shapes=shapes))
fig.update_layout(**layout)

fig.write_html("out.html")
